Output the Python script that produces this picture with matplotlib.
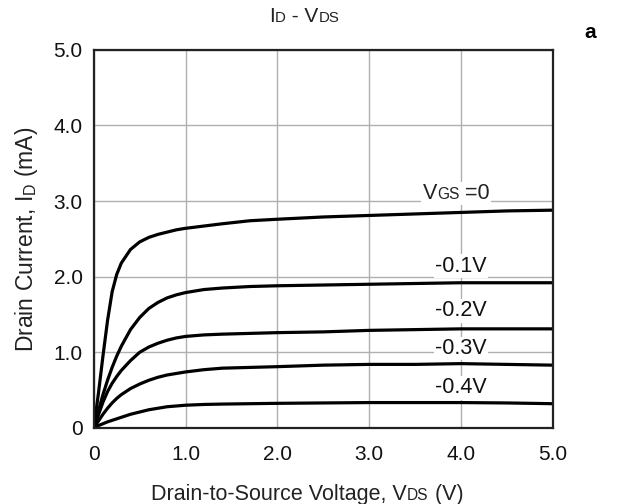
import matplotlib
matplotlib.use("Agg")
import matplotlib.pyplot as plt
from matplotlib.offsetbox import TextArea, HPacker, AnnotationBbox

plt.rcParams['font.family'] = ['Liberation Sans', 'DejaVu Sans']

# drain-source voltage (V)
vds = [0, 0.05, 0.1, 0.15, 0.2, 0.25, 0.3, 0.4, 0.5, 0.6, 0.7, 0.8, 0.9, 1.0,
       1.2, 1.4, 1.7, 2.0, 2.5, 3.0, 3.5, 4.0, 4.5, 5.0]

# drain current (mA) for each gate voltage
id_0 = [0, 0.45, 0.95, 1.42, 1.8, 2.03, 2.18, 2.36, 2.46, 2.52, 2.56, 2.59, 2.62, 2.64,
        2.67, 2.7, 2.74, 2.76, 2.79, 2.81, 2.83, 2.85, 2.87, 2.88]
id_m01 = [0, 0.22, 0.44, 0.63, 0.8, 0.95, 1.08, 1.3, 1.46, 1.58, 1.66, 1.72, 1.76, 1.79,
          1.83, 1.85, 1.87, 1.88, 1.89, 1.9, 1.91, 1.92, 1.92, 1.92]
id_m02 = [0, 0.17, 0.34, 0.48, 0.59, 0.68, 0.76, 0.89, 1.0, 1.07, 1.12, 1.16, 1.19, 1.21,
          1.23, 1.24, 1.25, 1.26, 1.27, 1.29, 1.3, 1.31, 1.31, 1.31]
id_m03 = [0, 0.09, 0.18, 0.26, 0.33, 0.39, 0.44, 0.52, 0.58, 0.63, 0.67, 0.7, 0.72, 0.74,
          0.77, 0.79, 0.8, 0.81, 0.83, 0.84, 0.84, 0.85, 0.84, 0.83]
id_m04 = [0, 0.03, 0.055, 0.08, 0.1, 0.12, 0.14, 0.18, 0.21, 0.24, 0.26, 0.28, 0.29, 0.3,
          0.31, 0.315, 0.32, 0.325, 0.33, 0.335, 0.335, 0.335, 0.33, 0.32]

curves = [id_0, id_m01, id_m02, id_m03, id_m04]
labels = ["-0.1V", "-0.2V", "-0.3V", "-0.4V"]
label_y = [2.14, 1.55, 1.05, 0.53]

xticks = [0, 1, 2, 3, 4, 5]
xticklabels = ["0", "1.0", "2.0", "3.0", "4.0", "5.0"]
yticks = [0, 1, 2, 3, 4, 5]
yticklabels = ["0", "1.0", "2.0", "3.0", "4.0", "5.0"]

fig = plt.figure(figsize=(6.21, 5.04), dpi=100)
ax = fig.add_axes([0.151, 0.151, 0.739, 0.75])

for c in curves:
    ax.plot(vds, c, color='black', lw=2.3, solid_capstyle='round')

ax.set_xlim(0, 5)
ax.set_ylim(0, 5)
ax.set_xticks(xticks)
ax.set_xticklabels(xticklabels)
ax.set_yticks(yticks)
ax.set_yticklabels(yticklabels)
ax.tick_params(length=0, labelsize=15, pad=8, labelcolor='#111111')
ax.tick_params(axis='x', pad=12)
ax.grid(True, color='#b0b0b0', lw=1)
ax.set_axisbelow(True)
for s in ax.spines.values():
    s.set_linewidth(1.6)
    s.set_color('#222222')

bb = dict(facecolor='white', edgecolor='none', pad=1)
for t, y in zip(labels, label_y):
    ax.text(4.0, y, t, fontsize=15.5, ha='center', va='center', bbox=bb, color='#111111')


def sub_text(parts, size):
    # pieces sharing one baseline, small ones for the subscripts
    boxes = [TextArea(p, textprops=dict(fontsize=size * (0.72 if small else 1.0), color='#222222'))
             for p, small in parts]
    return HPacker(children=boxes, align='baseline', pad=0, sep=0)


vgs = sub_text([("V", False), ("GS", True), (" =0", False)], 15.5)
ab = AnnotationBbox(vgs, (3.95, 3.1), xycoords='data', frameon=True, box_alignment=(0.5, 0.5),
                    bboxprops=dict(facecolor='white', edgecolor='none'), pad=0.1)
ax.add_artist(ab)

title = sub_text([("I", False), ("D", True), (" - V", False), ("DS", True)], 15)
ab = AnnotationBbox(title, (0.49, 0.967), xycoords='figure fraction', frameon=False,
                    box_alignment=(0.5, 0.5))
fig.add_artist(ab)

xl = sub_text([("Drain-to-Source Voltage, V", False), ("DS", True), (" (V)", False)], 15.5)
ab = AnnotationBbox(xl, (0.495, 0.018), xycoords='figure fraction', frameon=False,
                    box_alignment=(0.5, 0.5))
fig.add_artist(ab)

ax.set_ylabel(r"Drain Current, I$_\mathregular{D}$ (mA)", fontsize=16.5, labelpad=10, color='#222222')

fig.text(0.95, 0.935, "a", fontsize=15, fontweight='bold', ha='center', va='center')

fig.savefig("out.png", dpi=100)
